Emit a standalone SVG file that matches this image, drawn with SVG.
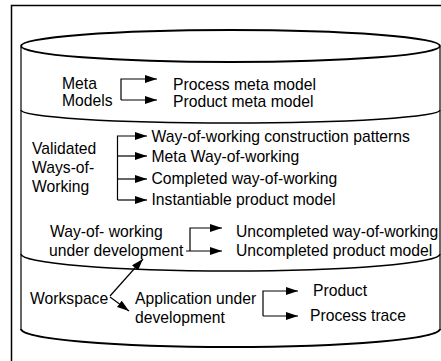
<svg xmlns="http://www.w3.org/2000/svg" width="441" height="361" viewBox="0 0 441 361">
<style>
text{font-family:"Liberation Sans",Arial,sans-serif;font-size:15.7px;fill:#000}
.ln{fill:none;stroke:#000;stroke-width:1.2}
.cyl{fill:none;stroke:#000}
</style>
<defs>
<marker id="ah" markerUnits="userSpaceOnUse" markerWidth="13" markerHeight="9" refX="12" refY="4" orient="auto">
<path d="M0,0 L12,4 L0,8 z" fill="#000"/>
</marker>
</defs>
<rect width="441" height="361" fill="#fff"/>
<path d="M11.5,361 V5.5 H441" fill="none" stroke="#000" stroke-width="1.5"/>
<g id="cylinder">
<path class="cyl" d="M21,47 V329" stroke-width="1.2"/>
<path class="cyl" d="M440,47 V330" stroke="#666" stroke-width="1.2"/>
<ellipse class="cyl" cx="230.5" cy="46" rx="209.5" ry="16" stroke-width="2"/>
<path class="cyl" d="M21,110 A209.5 13 0 0 0 440 110" stroke-width="1.5"/>
<path class="cyl" d="M21,254 A209.5 17 0 0 0 440 254" stroke-width="1.5"/>
<path class="cyl" d="M21,329 A209.5 18 0 0 0 440 329" stroke-width="2"/>
</g>
<g id="meta-models">
<text x="62" y="89">Meta</text>
<text x="62" y="106">Models</text>
</g>
<g id="process-meta-model"><text x="173" y="90">Process meta model</text></g>
<g id="product-meta-model"><text x="173" y="107">Product meta model</text></g>
<g id="validated">
<text x="32" y="154">Validated</text>
<text x="32" y="173">Ways-of-</text>
<text x="32" y="192">Working</text>
</g>
<g id="wow-construction"><text x="151.5" y="142">Way-of-working construction patterns</text></g>
<g id="meta-wow"><text x="151.5" y="162">Meta Way-of-working</text></g>
<g id="completed-wow"><text x="151.5" y="184">Completed way-of-working</text></g>
<g id="instantiable"><text x="151.5" y="205">Instantiable product model</text></g>
<g id="wow-under-dev">
<text x="50" y="237">Way-of- working</text>
<text x="49" y="256">under development</text>
</g>
<g id="uncompleted-wow"><text x="236" y="237">Uncompleted way-of-working</text></g>
<g id="uncompleted-pm"><text x="236" y="256">Uncompleted product model</text></g>
<g id="workspace"><text x="30" y="304">Workspace</text></g>
<g id="app-under-dev">
<text x="135" y="304">Application under</text>
<text x="135" y="323">development</text>
</g>
<g id="product"><text x="313" y="296">Product</text></g>
<g id="process-trace"><text x="310" y="321">Process trace</text></g>
<g id="connectors">
<path class="ln" d="M121,100 V79 H157" marker-end="url(#ah)"/>
<path class="ln" d="M121,100 H157" marker-end="url(#ah)"/>
<path class="ln" d="M117.5,200 V136 H147" marker-end="url(#ah)"/>
<path class="ln" d="M117.5,156 H147" marker-end="url(#ah)"/>
<path class="ln" d="M117.5,179 H147" marker-end="url(#ah)"/>
<path class="ln" d="M117.5,200 H147" marker-end="url(#ah)"/>
<path class="ln" d="M190,251 V228 H222" marker-end="url(#ah)"/>
<path class="ln" d="M186,251 H222" marker-end="url(#ah)"/>
<path class="ln" d="M110,296 L143,259" marker-end="url(#ah)"/>
<path class="ln" d="M110,297 L129,311" marker-end="url(#ah)"/>
<path class="ln" d="M263,316 V291 H298" marker-end="url(#ah)"/>
<path class="ln" d="M263,316 H298" marker-end="url(#ah)"/>
</g>
</svg>
